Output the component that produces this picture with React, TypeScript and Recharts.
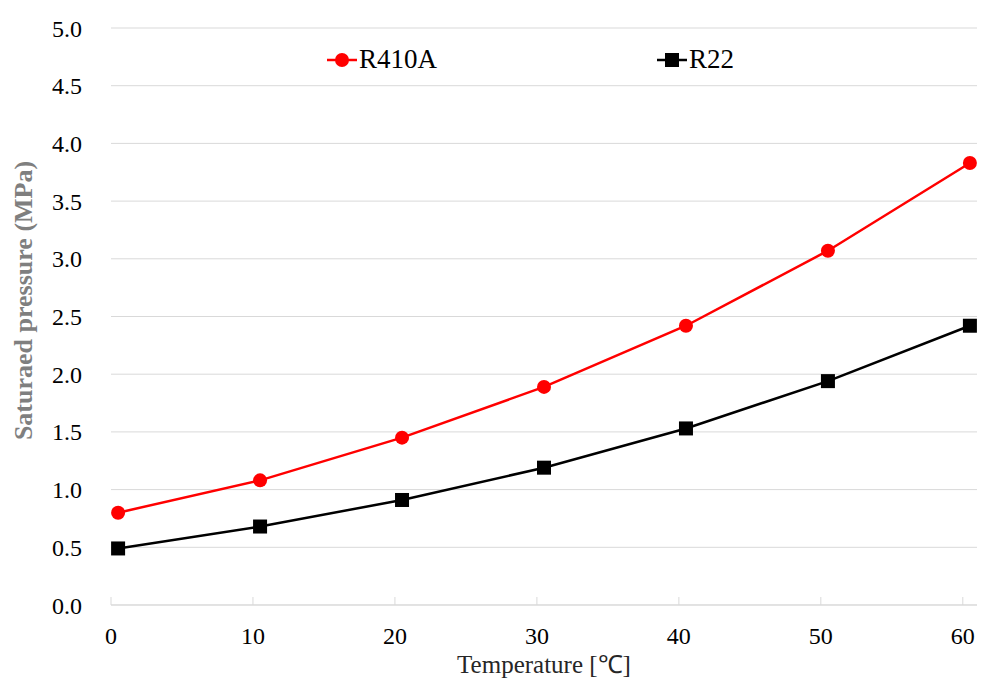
import React from 'react';
import { LineChart, Line, XAxis, YAxis, CartesianGrid, Label } from 'recharts';

const temperatures = [0.5, 10.5, 20.5, 30.5, 40.5, 50.5, 60.5];
const r410a = [0.8, 1.08, 1.45, 1.89, 2.42, 3.07, 3.83];
const r22 = [0.49, 0.68, 0.91, 1.19, 1.53, 1.94, 2.42];
const xTicks = [0, 10, 20, 30, 40, 50, 60];
const yTicks = [0, 0.5, 1, 1.5, 2, 2.5, 3, 3.5, 4, 4.5, 5];
const seriesNames = ['R410A', 'R22'];

const data = temperatures.map((t, i) => ({ t, R410A: r410a[i], R22: r22[i] }));

const FONT = '"Liberation Serif", "Times New Roman", serif';

const SquareDot = (props: any) => {
  const { cx, cy } = props;
  if (cx == null || cy == null) return null;
  return <rect key={`sq-${cx}`} x={cx - 7} y={cy - 7} width={14} height={14} fill="#000" />;
};

const XTick = (props: any) => {
  const { x, y, payload } = props;
  return (
    <g>
      <line x1={x} y1={y - 8} x2={x} y2={y} stroke="#d9d9d9" strokeWidth={1} />
      <text x={x} y={y + 39} textAnchor="middle" fill="#000" fontSize={24} fontFamily={FONT}>
        {payload.value}
      </text>
    </g>
  );
};

const LegendBox = () => (
  <div style={{ position: 'absolute', left: 327, top: 44, width: 420, height: 32, fontFamily: FONT, fontSize: 27 }}>
    <div style={{ position: 'absolute', left: 0, top: 0, display: 'flex', alignItems: 'center' }}>
      <svg width={30} height={30}>
        <line x1={0} y1={15} x2={30} y2={15} stroke="#ff0000" strokeWidth={2.5} />
        <circle cx={15} cy={15} r={7} fill="#ff0000" />
      </svg>
      <span style={{ color: '#000', marginLeft: 2 }}>{seriesNames[0]}</span>
    </div>
    <div style={{ position: 'absolute', left: 330, top: 0, display: 'flex', alignItems: 'center' }}>
      <svg width={30} height={30}>
        <line x1={0} y1={15} x2={30} y2={15} stroke="#000" strokeWidth={2.5} />
        <rect x={8} y={8} width={14} height={14} fill="#000" />
      </svg>
      <span style={{ color: '#000', marginLeft: 2 }}>{seriesNames[1]}</span>
    </div>
  </div>
);

export default function App() {
  return (
    <div style={{ position: 'absolute', left: 0, top: 0, width: 984, height: 678, background: '#fff' }}>
      <LineChart width={984} height={678} data={data} margin={{ top: 28, right: 7, bottom: 0, left: 0 }}>
        <CartesianGrid vertical={false} stroke="#d9d9d9" strokeWidth={1} />
        <XAxis
          dataKey="t"
          type="number"
          domain={[0, 61]}
          ticks={xTicks}
          height={73}
          axisLine={{ stroke: '#d9d9d9', strokeWidth: 1 }}
          tickLine={false}
          tickSize={0}
          tickMargin={0}
          tick={<XTick />}
          interval={0}
        >
          <Label
            value="Temperature [℃]"
            position="insideBottom"
            offset={5}
            style={{ fontFamily: FONT, fontSize: 25, fill: '#262626' }}
          />
        </XAxis>
        <YAxis
          type="number"
          domain={[0, 5]}
          ticks={yTicks}
          width={111}
          axisLine={false}
          tickLine={false}
          tickSize={0}
          tickMargin={29}
          interval={0}
          tickFormatter={(v: number) => v.toFixed(1)}
          tick={{ fontFamily: FONT, fontSize: 24, fill: '#000' }}
        >
          <Label
            value="Saturaed pressure (MPa)"
            angle={-90}
            position="center"
            dx={-33}
            dy={-16}
            style={{ fontFamily: FONT, fontSize: 26, fontWeight: 'bold', fill: '#7f7f7f', textAnchor: 'middle' }}
          />
        </YAxis>
        <Line
          name={seriesNames[0]}
          type="linear"
          dataKey="R410A"
          stroke="#ff0000"
          strokeWidth={2.5}
          dot={{ r: 7, fill: '#ff0000', stroke: '#ff0000', strokeWidth: 0 }}
          isAnimationActive={false}
        />
        <Line
          name={seriesNames[1]}
          type="linear"
          dataKey="R22"
          stroke="#000000"
          strokeWidth={2.5}
          dot={<SquareDot />}
          isAnimationActive={false}
        />
      </LineChart>
      <LegendBox />
    </div>
  );
}
